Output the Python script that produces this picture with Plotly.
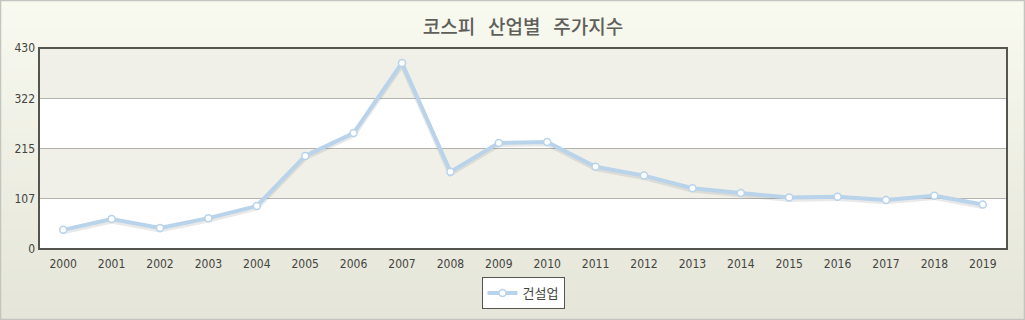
import plotly.graph_objects as go

years = [str(y) for y in range(2000, 2020)]
values = [41, 64, 45, 66, 92, 199, 248, 398, 165, 227, 229, 176, 157, 130, 120, 110, 112, 105, 114, 95]
y_ticks = [0, 107, 215, 322, 430]
series_name = "건설업"
title_text = "코스피\u00a0\u00a0\u00a0산업별\u00a0\u00a0\u00a0주가지수"

W, H = 1025, 320
ML, MR, MT, MB = 39, 18, 48, 71
pw, ph = W - ML - MR, H - MT - MB

def px2paper_x(px):
    return (px - ML) / pw

def px2paper_y(py):
    return (H - MB - py) / ph

fig = go.Figure()

fig.add_trace(go.Scatter(x=years, y=[v - 4 for v in values], mode="lines",
                         line=dict(color="rgba(110,110,110,0.15)", width=5),
                         hoverinfo="skip", showlegend=False))
fig.add_trace(go.Scatter(x=years, y=values, mode="lines+markers", name=series_name,
                         line=dict(color="#b8d3ea", width=4),
                         marker=dict(size=7, color="white", line=dict(color="#b8d3ea", width=1.5))))

shapes = []
n = 32
c0 = (248, 249, 239)
c1 = (229, 229, 217)
for i in range(n):
    t = i / (n - 1)
    col = "rgb(%d,%d,%d)" % tuple(round(c0[k] + (c1[k] - c0[k]) * t) for k in range(3))
    y0p = H * i / n
    y1p = H * (i + 1) / n
    shapes.append(dict(type="rect", xref="paper", yref="paper",
                       x0=px2paper_x(0), x1=px2paper_x(W),
                       y0=px2paper_y(y1p), y1=px2paper_y(y0p),
                       fillcolor=col, line=dict(width=0), layer="below"))
shapes.append(dict(type="rect", xref="paper", yref="paper", x0=0, x1=1, y0=0, y1=1,
                   fillcolor="white", line=dict(width=0), layer="below"))
for lo, hi in [(y_ticks[1], y_ticks[2]), (y_ticks[3], y_ticks[4])]:
    shapes.append(dict(type="rect", xref="paper", yref="y", x0=0, x1=1, y0=lo, y1=hi,
                       fillcolor="#f0f0e9", line=dict(width=0), layer="below"))
shapes.append(dict(type="rect", xref="paper", yref="paper", x0=0, x1=1, y0=0, y1=1,
                   line=dict(color="#555550", width=2), layer="above"))
shapes.append(dict(type="rect", xref="paper", yref="paper",
                   x0=px2paper_x(0.5), x1=px2paper_x(W - 0.5),
                   y0=px2paper_y(H - 0.5), y1=px2paper_y(0.5),
                   line=dict(color="#c4c4c0", width=1.5), layer="above"))

fig.update_layout(
    width=W, height=H,
    margin=dict(l=ML, r=MR, t=MT, b=MB, autoexpand=False),
    paper_bgcolor="#eeeee4",
    plot_bgcolor="rgba(0,0,0,0)",
    shapes=shapes,
    title=dict(text=title_text, x=0.5, xref="paper", xanchor="center", y=1 - 27 / H, yanchor="middle",
               font=dict(family="Noto Sans CJK KR", size=19, color="#5f5f5a", weight=500)),
    font=dict(family="Liberation Sans", size=12, color="#444440"),
    xaxis=dict(type="category", range=[-0.5, len(years) - 0.5], showgrid=False, zeroline=False,
               showline=False, ticks="", ticklabelstandoff=6,
               tickfont=dict(family="DejaVu Sans Condensed, Liberation Sans", size=12, color="#444440")),
    yaxis=dict(range=[0, 430], tickvals=y_ticks, ticktext=[str(v) for v in y_ticks],
               showgrid=True, gridcolor="#b4b4ae", gridwidth=1, zeroline=False, showline=False,
               ticks="", ticklabelstandoff=3,
               tickfont=dict(family="DejaVu Sans Condensed, Liberation Sans", size=12, color="#444440")),
    showlegend=True,
    legend=dict(orientation="h", x=0.5, xanchor="center", y=px2paper_y(277), yanchor="top",
                bgcolor="white", bordercolor="#555550", borderwidth=1, itemwidth=30,
                font=dict(family="Noto Sans CJK KR", size=13, color="#444440")),
)

fig.write_html("out.html")
